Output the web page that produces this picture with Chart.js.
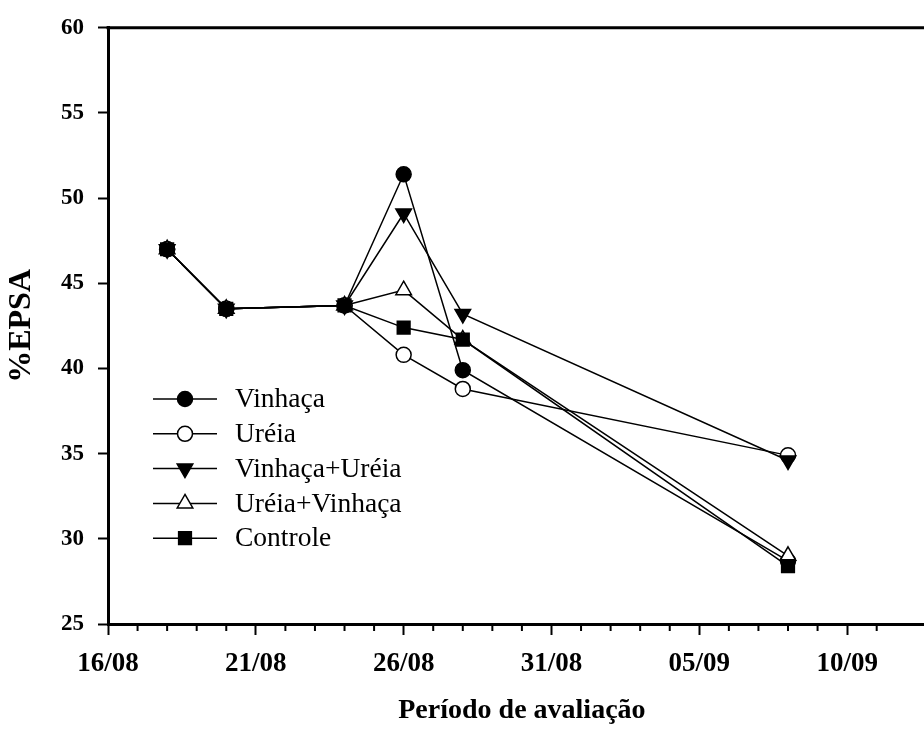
<!DOCTYPE html>
<html>
<head>
<meta charset="utf-8">
<script src="https://cdn.jsdelivr.net/npm/chart.js@4.4.0/dist/chart.umd.min.js"></script>
<style>
  html, body { margin: 0; padding: 0; background: #fff; overflow: hidden; }
  canvas { display: block; }
</style>
</head>
<body>
<canvas id="grafico" width="924" height="731"></canvas>
<script>
// dias de avaliação (contados a partir de 1º de agosto)
const dias = [18, 20, 24, 26, 28, 39]

const vinhaca       = [47.0, 43.5, 43.7, 51.4, 39.9, 28.7]
const ureia         = [47.0, 43.5, 43.7, 40.8, 38.8, 34.9]
const vinhacaUreia  = [47.0, 43.5, 43.7, 49.1, 43.2, 34.6]
const ureiaVinhaca  = [47.0, 43.5, 43.7, 44.6, 41.7, 29.0]
const controle      = [47.0, 43.5, 43.7, 42.4, 41.7, 28.4]

const nomes = ['Vinhaça', 'Uréia', 'Vinhaça+Uréia', 'Uréia+Vinhaça', 'Controle']

const yTicks = [25, 30, 35, 40, 45, 50, 55, 60]

const serif = "'Liberation Serif', 'Times New Roman', serif"

function rotulo(d) {
    const pad = n => String(n).padStart(2, '0')
    return d <= 31 ? pad(d) + '/08' : pad(d - 31) + '/09'
}

function serie(label, valores, estilo, fundo, raio, rot, ordem) {
    return {
        label: label,
        data: dias.map((d, i) => ({x: d, y: valores[i]})),
        borderColor: '#000',
        borderWidth: 1.5,
        pointStyle: estilo,
        pointRadius: raio,
        pointHoverRadius: raio,
        pointRotation: rot,
        pointBackgroundColor: fundo,
        pointBorderColor: '#000',
        pointBorderWidth: 1.5,
        tension: 0,
        order: ordem
    }
}

const datasets = [
    serie(nomes[0], vinhaca, 'circle', '#000', 7.5, 0, 5),
    serie(nomes[1], ureia, 'circle', '#fff', 7.5, 0, 4),
    serie(nomes[2], vinhacaUreia, 'triangle', '#000', 9, 180, 2),
    serie(nomes[3], ureiaVinhaca, 'triangle', '#fff', 9, 0, 3),
    serie(nomes[4], controle, 'rect', '#000', 9, 0, 1)
]

// moldura superior, ticks menores do eixo x, título do eixo x e legenda
const extras = {
    id: 'extras',
    afterDraw(chart) {
        const c = chart.ctx
        const a = chart.chartArea
        const x = chart.scales.x
        c.save()
        c.strokeStyle = '#000'
        c.lineWidth = 3
        c.beginPath()
        c.moveTo(a.left - 1.5, a.top)
        c.lineTo(a.right, a.top)
        c.stroke()

        c.lineWidth = 2
        x.ticks.forEach(t => {
            if ((t.value - 16) % 5 === 0) return
            const px = x.getPixelForValue(t.value)
            c.beginPath()
            c.moveTo(px, a.bottom)
            c.lineTo(px, a.bottom + 7)
            c.stroke()
        })

        // título centrado no período 16/08 - 13/09
        c.fillStyle = '#000'
        c.font = 'bold 28px ' + serif
        c.textAlign = 'center'
        c.textBaseline = 'middle'
        c.fillText('Período de avaliação', (x.getPixelForValue(16) + x.getPixelForValue(44)) / 2, 711)

        c.textAlign = 'left'
        c.font = '27.5px ' + serif
        chart.data.datasets.forEach((ds, i) => {
            const y = 399 + i * 34.8
            c.lineWidth = 1.5
            c.strokeStyle = '#000'
            c.beginPath()
            c.moveTo(153, y)
            c.lineTo(217, y)
            c.stroke()
            c.fillStyle = ds.pointBackgroundColor
            Chart.helpers.drawPoint(c, {
                pointStyle: ds.pointStyle,
                radius: ds.pointRadius,
                rotation: ds.pointRotation,
                borderWidth: 1.5
            }, 185, y)
            c.fillStyle = '#000'
            c.fillText(ds.label, 235, y + 1)
        })
        c.restore()
    }
}

const ctx = document.getElementById('grafico').getContext('2d')
const chart = new Chart(ctx, {
    type: 'line',
    data: { datasets: datasets },
    options: {
        responsive: false,
        animation: false,
        events: [],
        layout: {
            autoPadding: false,
            padding: { top: 26, right: 0, left: 0, bottom: 0 }
        },
        plugins: {
            legend: { display: false },
            tooltip: { enabled: false }
        },
        scales: {
            x: {
                type: 'linear',
                min: 16,
                max: 43.6,
                afterFit: s => {
                    s.height = 107
                    s.paddingRight = 0
                },
                afterBuildTicks: s => { s.ticks = s.ticks.filter(t => Number.isInteger(t.value)) },
                ticks: {
                    stepSize: 1,
                    autoSkip: false,
                    maxRotation: 0,
                    padding: 13,
                    color: '#000',
                    font: { family: serif, size: 27, weight: 'bold' },
                    callback: v => (v - 16) % 5 === 0 ? rotulo(v) : ''
                },
                grid: {
                    drawOnChartArea: false,
                    drawTicks: true,
                    tickLength: 11,
                    tickWidth: 2,
                    tickColor: c => (c.tick && (c.tick.value - 16) % 5 === 0) ? '#000' : 'rgba(0,0,0,0)'
                },
                border: { display: true, color: '#000', width: 3 }
            },
            y: {
                min: 25,
                max: 60,
                afterFit: s => { s.width = 108 },
                afterBuildTicks: s => { s.ticks = yTicks.map(v => ({value: v})) },
                ticks: {
                    padding: 14,
                    color: '#000',
                    font: { family: serif, size: 23, weight: 'bold' }
                },
                grid: {
                    drawOnChartArea: false,
                    drawTicks: true,
                    tickLength: 10,
                    tickWidth: 2,
                    tickColor: '#000'
                },
                border: { display: true, color: '#000', width: 3 },
                title: {
                    display: true,
                    text: '%EPSA',
                    color: '#000',
                    font: { family: serif, size: 32, weight: 'bold' },
                    padding: { top: 3, bottom: 0 }
                }
            }
        }
    },
    plugins: [extras]
})
</script>
</body>
</html>
